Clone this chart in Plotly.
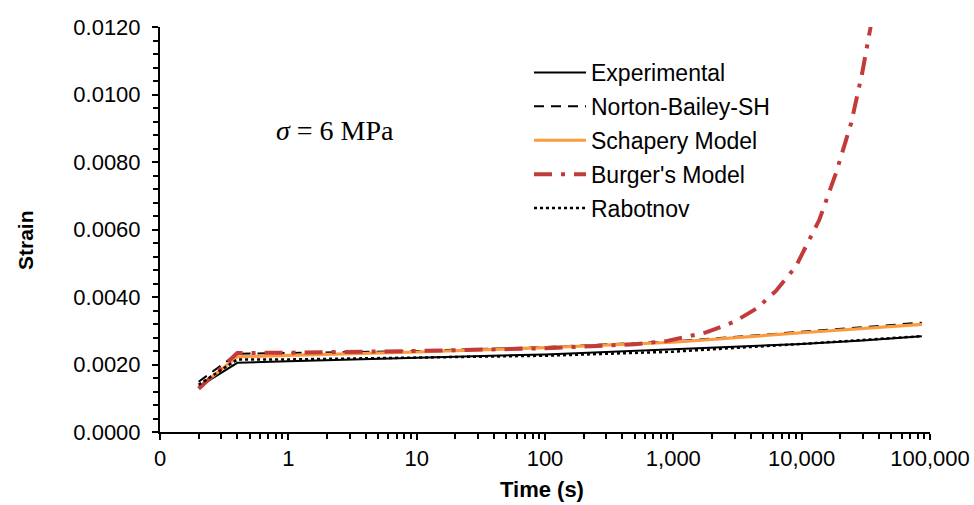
import plotly.graph_objects as go

# Creep strain vs. time at sigma = 6 MPa
t_exp = [0.2, 0.4, 1, 10, 100, 1000, 5000, 10000, 30000, 86400]
e_exp = [0.00134, 0.00205, 0.00210, 0.00220, 0.00230, 0.00245, 0.00256, 0.00261, 0.00271, 0.00284]

t_nb = [0.2, 0.4, 1, 10, 100, 1000, 10000, 86400]
e_nb = [0.00149, 0.00232, 0.00234, 0.00240, 0.00252, 0.00268, 0.00297, 0.00324]

t_sch = [0.2, 0.4, 1, 10, 100, 1000, 10000, 86400]
e_sch = [0.00132, 0.00223, 0.00227, 0.00237, 0.00250, 0.00266, 0.00294, 0.00319]

t_bur = [0.2, 0.4, 1, 10, 100, 500, 900, 1300, 1800, 3000, 4500, 6300, 9000,
         13700, 18500, 24300, 29600, 34200, 36000]
e_bur = [0.00128, 0.00234, 0.00235, 0.00240, 0.00248, 0.00260, 0.00270, 0.00282,
         0.00295, 0.00327, 0.00367, 0.00418, 0.00490, 0.00628, 0.00767, 0.00915,
         0.01063, 0.01194, 0.01250]

t_rab = [0.2, 0.4, 1, 10, 100, 1000, 3700, 10000, 86400]
e_rab = [0.00140, 0.00215, 0.00215, 0.00220, 0.00226, 0.00238, 0.00250, 0.00261, 0.00284]

x_tickvals = [0.1, 1, 10, 100, 1000, 10000, 100000]
x_ticktext = ["0", "1", "10", "100", "1,000", "10,000", "100,000"]
y_tickvals = [0.0, 0.002, 0.004, 0.006, 0.008, 0.010, 0.012]
y_ticktext = ["0.0000", "0.0020", "0.0040", "0.0060", "0.0080", "0.0100", "0.0120"]

FONT = "Liberation Sans, Arial, sans-serif"
W, H = 974, 505
ML, MR, MT, MB = 160, 44, 27, 73

fig = go.Figure()
series = [
    ("Experimental", t_exp, e_exp, dict(color="black", width=2, dash="solid")),
    ("Norton-Bailey-SH", t_nb, e_nb, dict(color="black", width=2, dash="10px,7px")),
    ("Schapery Model", t_sch, e_sch, dict(color="#FB9A3F", width=3.2, dash="solid")),
    ("Burger's Model", t_bur, e_bur, dict(color="#C23B3A", width=4, dash="18px,9px,4px,9px")),
    ("Rabotnov", t_rab, e_rab, dict(color="black", width=2.5, dash="3px,3px")),
]
for name, xs, ys, line in series:
    fig.add_trace(go.Scatter(x=xs, y=ys, mode="lines", name=name, line=line,
                             legendgroup=name))

pw, ph = W - ML - MR, H - MT - MB


def px_x(p):
    return (p - ML) / pw


def px_y(p):
    return 1 - (p - MT) / ph


axis_common = dict(showgrid=False, zeroline=False, showline=True, linecolor="black",
                   linewidth=2, ticks="outside", ticklen=6, tickwidth=1.5,
                   tickcolor="black", tickfont=dict(size=22, family=FONT),
                   automargin=False)


def label(text, x, y, size, family=FONT, angle=0, yanchor="middle"):
    return dict(text=text, x=px_x(x), y=px_y(y), xref="paper", yref="paper",
                xanchor="center", yanchor=yanchor, textangle=angle,
                showarrow=False, font=dict(size=size, family=family))


fig.update_layout(
    width=W, height=H,
    margin=dict(l=ML, r=MR, t=MT, b=MB),
    paper_bgcolor="white", plot_bgcolor="white",
    font=dict(family=FONT, size=22, color="black"),
    showlegend=True,
    legend=dict(x=px_x(529), y=px_y(51), xanchor="left", yanchor="top",
                bgcolor="rgba(0,0,0,0)", font=dict(size=23, family=FONT),
                tracegroupgap=1, traceorder="grouped", itemwidth=52),
    xaxis=dict(type="log", range=[-1, 5], tickvals=x_tickvals, ticktext=x_ticktext,
               minor=dict(ticks="outside", ticklen=5, tickwidth=1.5, tickcolor="black",
                          dtick="D1"),
               **axis_common),
    yaxis=dict(range=[0, 0.012], tickvals=y_tickvals, ticktext=y_ticktext,
               ticklabelstandoff=7,
               minor=dict(ticks="outside", ticklen=5, tickwidth=1.5, tickcolor="black",
                          tickvals=[i * 0.0004 for i in range(31)]),
               **axis_common),
    annotations=[
        label("<b>Strain</b>", 25, 240, 21, angle=-90),
        label("<b>Time (s)</b>", 542, 504, 22, yanchor="bottom"),
        label("<i>σ</i> = 6 MPa", 335, 130, 28,
              family="Liberation Serif, Times New Roman, serif"),
    ],
)

fig.write_html("out.html")
